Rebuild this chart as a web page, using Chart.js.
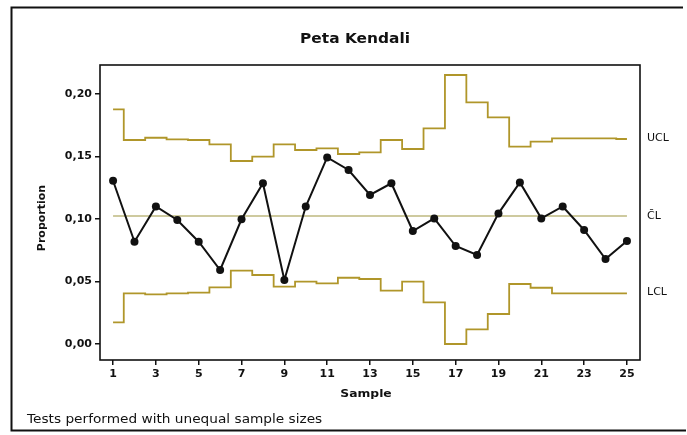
<!DOCTYPE html>
<html>
<head>
<meta charset="utf-8">
<script src="https://cdn.jsdelivr.net/npm/chart.js@4"></script>
<style>
  html, body { margin: 0; padding: 0; background: #fff; }
  canvas { display: block; }
</style>
</head>
<body>
<canvas id="pchart" width="687" height="435"></canvas>
<script>
// sample numbers
const samples = [1,2,3,4,5,6,7,8,9,10,11,12,13,14,15,16,17,18,19,20,21,22,23,24,25]
// proportion per sample
const proportions = [0.1306,0.0818,0.1100,0.0992,0.0818,0.0592,0.0998,0.1286,0.0512,0.1100,
  0.1493,0.1392,0.1192,0.1286,0.0904,0.1005,0.0784,0.0712,0.1045,0.1293,
  0.1005,0.1100,0.0912,0.0680,0.0824]
// upper / lower control limits (unequal sample sizes)
const ucl = [0.1877,0.1632,0.1650,0.1637,0.1632,0.1597,0.1464,0.1499,0.1597,0.1552,
  0.1565,0.1520,0.1533,0.1632,0.1560,0.1725,0.2152,0.1933,0.1813,0.1579,
  0.1619,0.1645,0.1645,0.1645,0.1640]
const lcl = [0.0173,0.0405,0.0397,0.0405,0.0411,0.0453,0.0587,0.0552,0.0459,0.0499,
  0.0485,0.0530,0.0520,0.0427,0.0499,0.0333,0.0000,0.0117,0.0240,0.0480,
  0.0450,0.0405,0.0405,0.0405,0.0405]
const centerLine = 0.1024
const xTicks = [1,3,5,7,9,11,13,15,17,19,21,23,25]
const yTicks = [0, 0.05, 0.10, 0.15, 0.20]

const FONT = '"DejaVu Sans", sans-serif'
const limitColor = '#b0962a'

const toXY = (ys) => samples.map((s, i) => ({x: s, y: ys[i]}))

// text slightly widened, like the scanned original
const wideText = (ctx, txt, x, y, sx) => {
  ctx.save()
  ctx.translate(x, y)
  ctx.scale(sx, 1)
  ctx.fillText(txt, 0, 0)
  ctx.restore()
}

const decor = {
  id: 'decor',
  beforeDraw(chart) {
    const ctx = chart.ctx
    ctx.save()
    ctx.fillStyle = '#fff'
    ctx.fillRect(0, 0, chart.width, chart.height)
    ctx.restore()
  },
  afterDraw(chart) {
    const ctx = chart.ctx
    const a = chart.chartArea
    const y = chart.scales.y
    ctx.save()
    // outer frame
    ctx.strokeStyle = '#111'
    ctx.lineWidth = 2
    ctx.beginPath()
    ctx.moveTo(683, 7.5)
    ctx.lineTo(11.5, 7.5)
    ctx.lineTo(11.5, 430.5)
    ctx.lineTo(686, 430.5)
    ctx.stroke()
    // plot frame
    ctx.lineWidth = 1.6
    ctx.strokeRect(a.left, a.top, a.right - a.left, a.bottom - a.top)

    ctx.fillStyle = '#111'
    ctx.textBaseline = 'middle'
    ctx.textAlign = 'center'
    ctx.font = 'bold 14px ' + FONT
    wideText(ctx, 'Peta Kendali', 355, 39, 1.1)
    ctx.font = 'bold 11px ' + FONT
    wideText(ctx, 'Sample', 366, 394, 1.12)
    ctx.save()
    ctx.translate(42, 218)
    ctx.rotate(-Math.PI / 2)
    ctx.fillText('Proportion', 0, 0)
    ctx.restore()

    ctx.textAlign = 'left'
    ctx.font = '12px ' + FONT
    wideText(ctx, 'Tests performed with unequal sample sizes', 27, 420, 1.14)

    // right-side limit labels
    ctx.font = '11px ' + FONT
    ctx.fillText('UCL', 647, 138)
    ctx.fillText('C\u0304L', 647, y.getPixelForValue(centerLine))
    ctx.fillText('LCL', 647, 292)
    ctx.restore()
  }
}

new Chart(document.getElementById('pchart'), {
  type: 'line',
  data: {
    datasets: [
      {
        label: 'Proportion',
        data: toXY(proportions),
        borderColor: '#111',
        backgroundColor: '#111',
        borderWidth: 2,
        pointRadius: 4,
        pointBorderWidth: 0,
        tension: 0
      },
      {
        label: 'UCL',
        data: toXY(ucl),
        borderColor: limitColor,
        borderWidth: 1.8,
        pointRadius: 0,
        stepped: 'middle'
      },
      {
        label: 'LCL',
        data: toXY(lcl),
        borderColor: limitColor,
        borderWidth: 1.8,
        pointRadius: 0,
        stepped: 'middle'
      },
      {
        label: 'CL',
        data: [{x: samples[0], y: centerLine}, {x: samples[samples.length - 1], y: centerLine}],
        borderColor: '#9e9640',
        borderWidth: 1.2,
        pointRadius: 0
      }
    ]
  },
  options: {
    responsive: false,
    animation: false,
    devicePixelRatio: 1,
    layout: {padding: {left: 0, right: 47, top: 65, bottom: 0}},
    plugins: {legend: {display: false}, tooltip: {enabled: false}, title: {display: false}},
    scales: {
      x: {
        type: 'linear',
        min: 0.39,
        max: 25.61,
        afterBuildTicks: (scale) => { scale.ticks = xTicks.map(v => ({value: v})) },
        afterFit: (scale) => { scale.height = 75 },
        grid: {display: true, drawOnChartArea: false, drawTicks: true, tickLength: 5, tickColor: '#111', lineWidth: 1.5},
        border: {display: false},
        ticks: {
          color: '#111',
          font: {family: FONT, size: 11, weight: 'bold'},
          padding: 3,
          maxRotation: 0,
          callback: (v) => String(v)
        }
      },
      y: {
        min: -0.0128,
        max: 0.2232,
        afterBuildTicks: (scale) => { scale.ticks = yTicks.map(v => ({value: v})) },
        afterFit: (scale) => { scale.width = 100 },
        grid: {display: true, drawOnChartArea: false, drawTicks: true, tickLength: 5, tickColor: '#111', lineWidth: 1.5},
        border: {display: false},
        ticks: {
          color: '#111',
          font: {family: FONT, size: 11, weight: 'bold'},
          padding: 3,
          callback: (v) => v.toFixed(2).replace('.', ',')
        }
      }
    }
  },
  plugins: [decor]
})
</script>
</body>
</html>
